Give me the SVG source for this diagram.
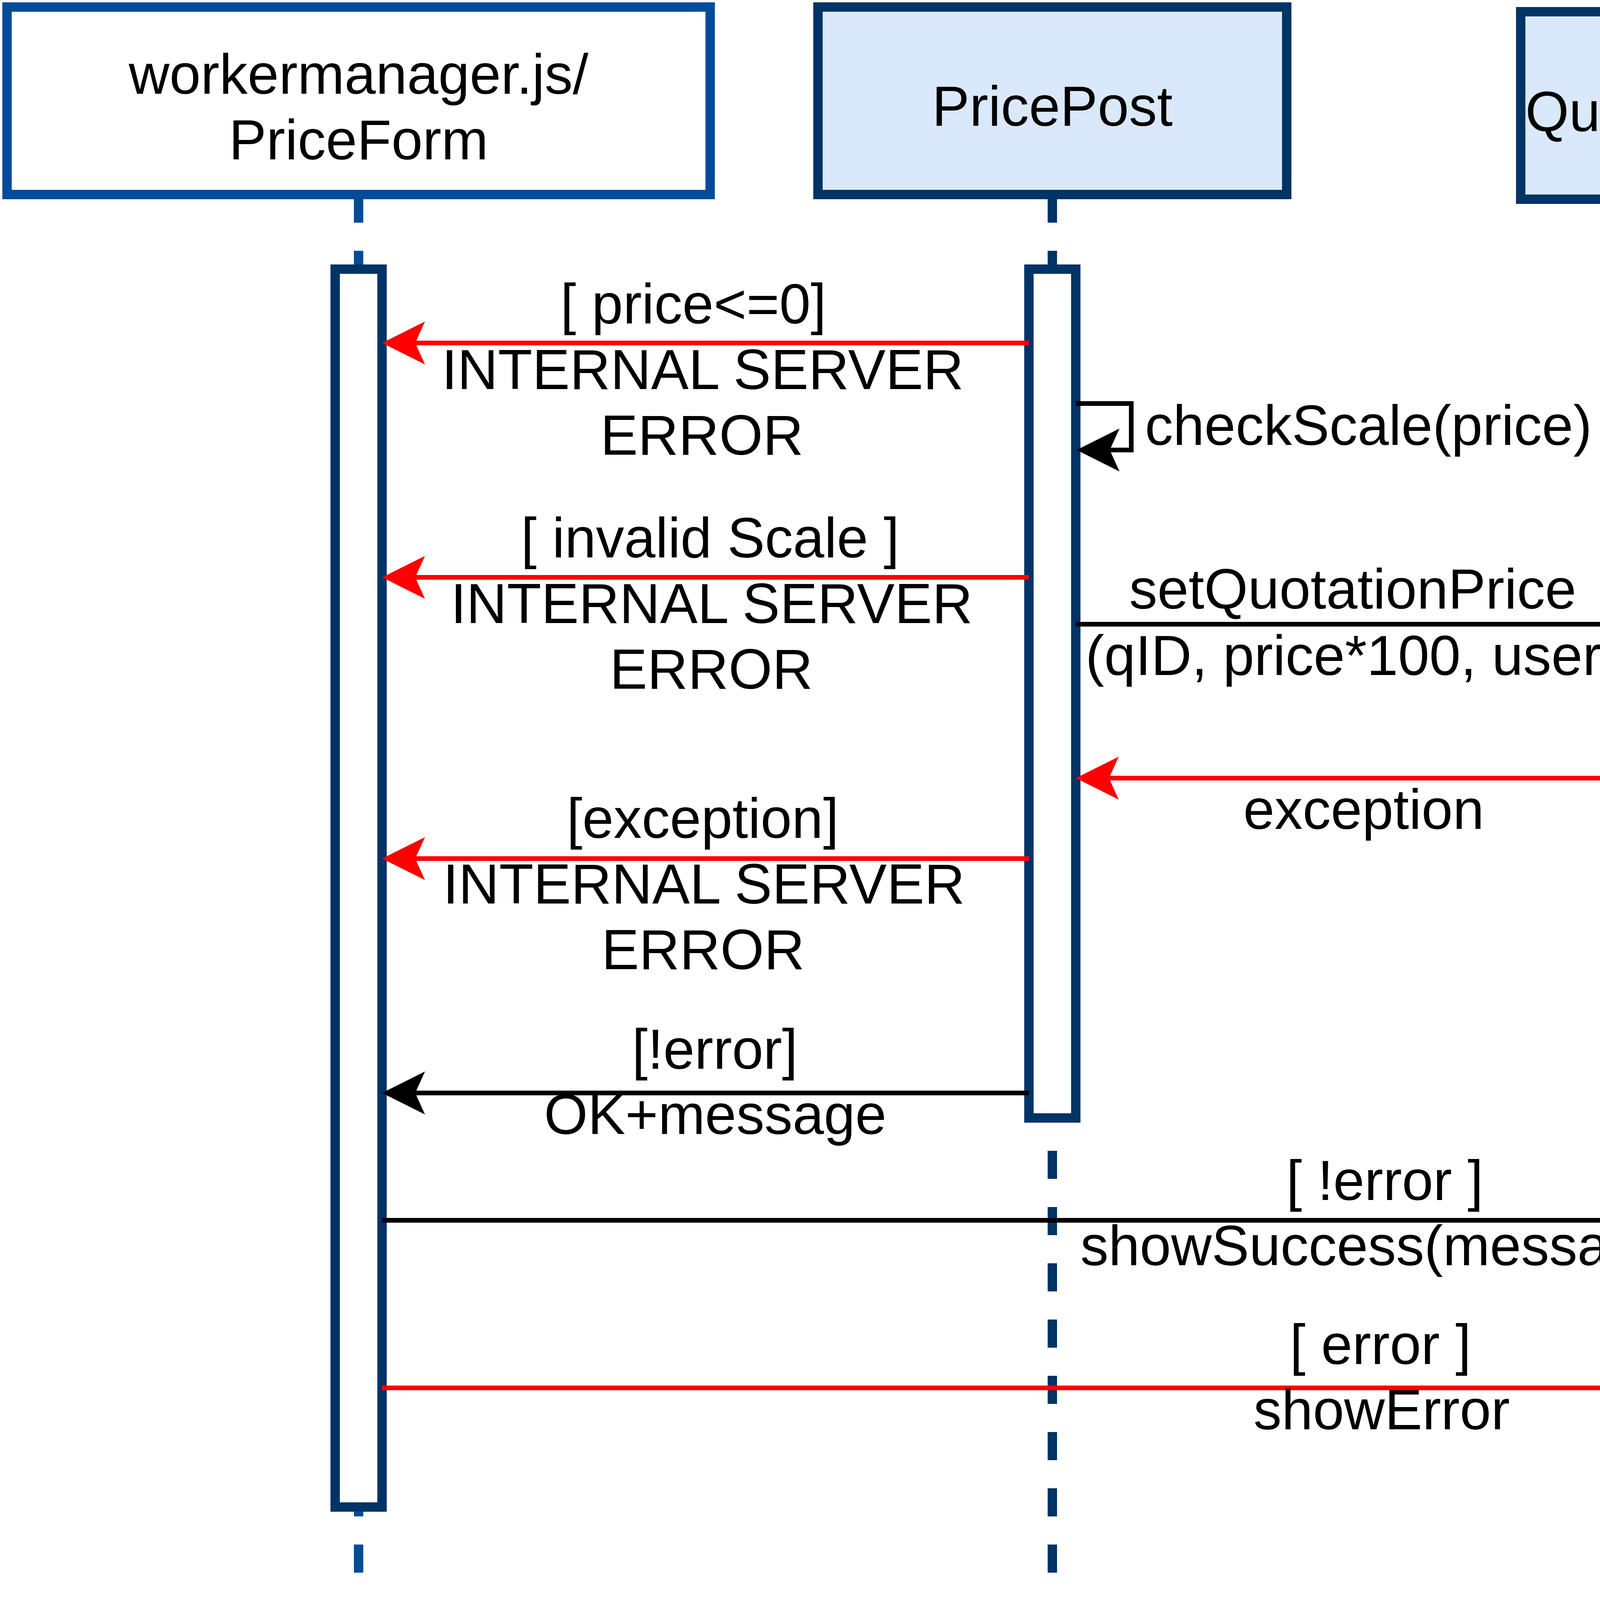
<svg xmlns="http://www.w3.org/2000/svg" width="6408" height="4152" viewBox="0 0 6408 4152">
<style>
text{font-family:"Liberation Sans",Arial,sans-serif;font-size:144px;fill:#000;text-anchor:middle}
.ls{text-anchor:start}
.box{stroke-width:24}
.b1{fill:#fff;stroke:#004C99}
.b2{fill:#DAE8FC;stroke:#003366}
.life{fill:none;stroke-width:24;stroke-dasharray:72 72}
.lb{stroke:#004C99}
.ld{stroke:#003366}
.act{fill:#fff;stroke:#003366;stroke-width:24}
.blk{fill:none;stroke:#000;stroke-width:12;marker-end:url(#ab)}
.red{fill:none;stroke:#FF0000;stroke-width:12;marker-end:url(#ar)}
</style>
<defs>
<marker id="ab" viewBox="0 0 110 110" refX="25" refY="55" markerWidth="110" markerHeight="110" markerUnits="userSpaceOnUse" orient="auto">
<path d="M110,55 L0,0 L25,55 L0,110 Z" fill="#000"/>
</marker>
<marker id="ar" viewBox="0 0 110 110" refX="25" refY="55" markerWidth="110" markerHeight="110" markerUnits="userSpaceOnUse" orient="auto">
<path d="M110,55 L0,0 L25,55 L0,110 Z" fill="#FF0000"/>
</marker>
</defs>
<rect width="6408" height="4152" fill="#fff"/>

<g id="lifelines">
<line class="life lb" x1="918" y1="498" x2="918" y2="4030"/>
<line class="life ld" x1="2694" y1="498" x2="2694" y2="4030"/>
<line class="life ld" x1="4373" y1="510" x2="4373" y2="4040"/>
<line class="life lb" x1="5436" y1="510" x2="5436" y2="4152"/>
</g>

<g id="node-priceform">
<rect class="box b1" x="18" y="18" width="1800" height="480"/>
<text x="918" y="240">workermanager.js/</text>
<text x="918" y="408">PriceForm</text>
</g>
<g id="node-pricepost">
<rect class="box b2" x="2094" y="18" width="1200" height="480"/>
<text x="2694" y="322">PricePost</text>
</g>
<g id="node-quotationdao">
<rect class="box b2" x="3893" y="30" width="960" height="480"/>
<text x="4373" y="336">QuotationDAO</text>
</g>
<g id="node-orchestrator">
<rect class="box b1" x="4956" y="30" width="960" height="480"/>
<text x="5436" y="249">Page</text>
<text x="5436" y="417">Orchestrator</text>
</g>

<g id="activations">
<rect id="act-priceform" class="act" x="858" y="689" width="120" height="3169"/>
<rect id="act-pricepost" class="act" x="2634" y="689" width="120" height="2173"/>
<rect id="act-quotationdao" class="act" x="4313" y="701" width="120" height="1489"/>
<rect id="act-orch-1" class="act" x="5376" y="3004" width="120" height="384"/>
<rect id="act-orch-2" class="act" x="5376" y="3482" width="120" height="385"/>
</g>

<g id="connectors">
<line class="red" x1="2634" y1="878" x2="1063" y2="878"/>
<path class="blk" d="M2754,1033 H2896 V1152 H2841"/>
<line class="red" x1="2634" y1="1478" x2="1063" y2="1478"/>
<line class="blk" x1="2754" y1="1598" x2="4228" y2="1598"/>
<line class="red" x1="4313" y1="1992" x2="2839" y2="1992"/>
<line class="red" x1="2634" y1="2198" x2="1063" y2="2198"/>
<line class="blk" x1="2634" y1="2798" x2="1063" y2="2798"/>
<line class="blk" x1="978" y1="3124" x2="5291" y2="3124"/>
<line class="red" x1="978" y1="3553" x2="5293" y2="3553"/>
<path class="blk" d="M5496,3076 H5737 V3315 H5583"/>
<path class="blk" d="M5496,3556 H5737 V3794 H5583"/>
</g>

<g id="labels">
<text x="1775" y="828">[ price&lt;=0]</text>
<text x="1799" y="996">INTERNAL SERVER</text>
<text x="1797" y="1164">ERROR</text>
<text class="ls" x="2931" y="1139">checkScale(price)</text>
<text x="1818" y="1427">[ invalid Scale ]</text>
<text x="1822" y="1595">INTERNAL SERVER</text>
<text x="1821" y="1763">ERROR</text>
<text x="3463" y="1558">setQuotationPrice</text>
<text x="3463" y="1728">(qID, price*100, user)</text>
<text x="3491" y="2122">exception</text>
<text x="1799" y="2145">[exception]</text>
<text x="1802" y="2313">INTERNAL SERVER</text>
<text x="1800" y="2481">ERROR</text>
<text x="1830" y="2736">[!error]</text>
<text x="1831" y="2903">OK+message</text>
<text x="3545" y="3072">[ !error ]</text>
<text x="3546" y="3239">showSuccess(message)</text>
<text x="3534" y="3492">[ error ]</text>
<text x="3537" y="3659">showError</text>
<text x="6058" y="3130">success</text>
<text x="6060" y="3297">+ refresh</text>
<text x="6095" y="3656">error +</text>
<text x="6096" y="3824">refresh</text>
</g>
</svg>
